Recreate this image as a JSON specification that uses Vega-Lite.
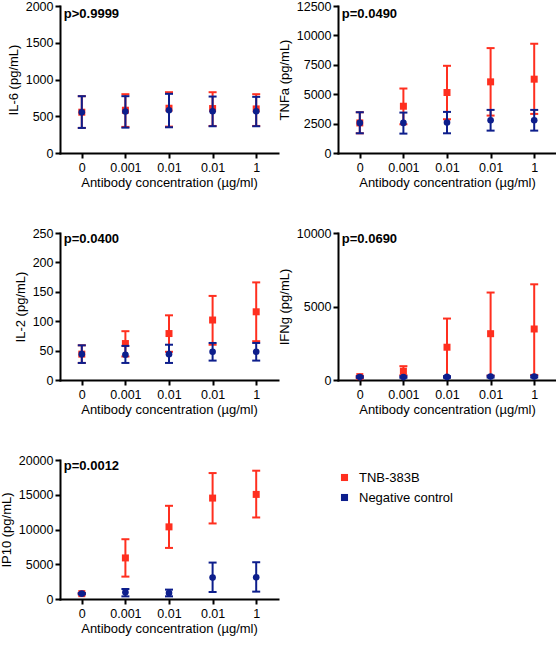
{
  "$schema": "https://vega.github.io/schema/vega-lite/v6.json",
  "padding": {"left": 0, "top": 0, "right": 0, "bottom": 0},
  "bounds": "flush",
  "columns": 2,
  "spacing": {"row": 80, "column": 60},
  "datasets": {
    "d": [
      {"c": "IL-6", "g": "TNB-383B", "pos": 1, "mean": 555, "lo": 341, "hi": 773},
      {"c": "IL-6", "g": "TNB-383B", "pos": 2, "mean": 582, "lo": 355, "hi": 800},
      {"c": "IL-6", "g": "TNB-383B", "pos": 3, "mean": 609, "lo": 359, "hi": 827},
      {"c": "IL-6", "g": "TNB-383B", "pos": 4, "mean": 605, "lo": 368, "hi": 827},
      {"c": "IL-6", "g": "TNB-383B", "pos": 5, "mean": 600, "lo": 368, "hi": 800},
      {"c": "IL-6", "g": "Negative control", "pos": 1, "mean": 555, "lo": 341, "hi": 773},
      {"c": "IL-6", "g": "Negative control", "pos": 2, "mean": 564, "lo": 345, "hi": 773},
      {"c": "IL-6", "g": "Negative control", "pos": 3, "mean": 582, "lo": 350, "hi": 805},
      {"c": "IL-6", "g": "Negative control", "pos": 4, "mean": 568, "lo": 364, "hi": 768},
      {"c": "IL-6", "g": "Negative control", "pos": 5, "mean": 568, "lo": 364, "hi": 764},
      {"c": "TNFa", "g": "TNB-383B", "pos": 1, "mean": 2557, "lo": 1676, "hi": 3466},
      {"c": "TNFa", "g": "TNB-383B", "pos": 2, "mean": 3977, "lo": 2443, "hi": 5483},
      {"c": "TNFa", "g": "TNB-383B", "pos": 3, "mean": 5142, "lo": 2870, "hi": 7415},
      {"c": "TNFa", "g": "TNB-383B", "pos": 4, "mean": 6051, "lo": 3182, "hi": 8920},
      {"c": "TNFa", "g": "TNB-383B", "pos": 5, "mean": 6278, "lo": 3324, "hi": 9290},
      {"c": "TNFa", "g": "Negative control", "pos": 1, "mean": 2557, "lo": 1676, "hi": 3466},
      {"c": "TNFa", "g": "Negative control", "pos": 2, "mean": 2557, "lo": 1648, "hi": 3437},
      {"c": "TNFa", "g": "Negative control", "pos": 3, "mean": 2585, "lo": 1676, "hi": 3494},
      {"c": "TNFa", "g": "Negative control", "pos": 4, "mean": 2784, "lo": 1903, "hi": 3665},
      {"c": "TNFa", "g": "Negative control", "pos": 5, "mean": 2784, "lo": 1903, "hi": 3665},
      {"c": "IL-2", "g": "TNB-383B", "pos": 1, "mean": 44, "lo": 29, "hi": 59},
      {"c": "IL-2", "g": "TNB-383B", "pos": 2, "mean": 62, "lo": 40, "hi": 83},
      {"c": "IL-2", "g": "TNB-383B", "pos": 3, "mean": 79, "lo": 48, "hi": 110},
      {"c": "IL-2", "g": "TNB-383B", "pos": 4, "mean": 102, "lo": 60, "hi": 143},
      {"c": "IL-2", "g": "TNB-383B", "pos": 5, "mean": 116, "lo": 66, "hi": 166},
      {"c": "IL-2", "g": "Negative control", "pos": 1, "mean": 44, "lo": 29, "hi": 59},
      {"c": "IL-2", "g": "Negative control", "pos": 2, "mean": 43, "lo": 29, "hi": 58},
      {"c": "IL-2", "g": "Negative control", "pos": 3, "mean": 44, "lo": 29, "hi": 60},
      {"c": "IL-2", "g": "Negative control", "pos": 4, "mean": 48, "lo": 33, "hi": 63},
      {"c": "IL-2", "g": "Negative control", "pos": 5, "mean": 48, "lo": 33, "hi": 63},
      {"c": "IFNg", "g": "TNB-383B", "pos": 1, "mean": 230, "lo": 150, "hi": 260},
      {"c": "IFNg", "g": "TNB-383B", "pos": 2, "mean": 600, "lo": 320, "hi": 940},
      {"c": "IFNg", "g": "TNB-383B", "pos": 3, "mean": 2230, "lo": 230, "hi": 4180},
      {"c": "IFNg", "g": "TNB-383B", "pos": 4, "mean": 3150, "lo": 300, "hi": 5950},
      {"c": "IFNg", "g": "TNB-383B", "pos": 5, "mean": 3470, "lo": 345, "hi": 6510},
      {"c": "IFNg", "g": "Negative control", "pos": 1, "mean": 200, "lo": 150, "hi": 260},
      {"c": "IFNg", "g": "Negative control", "pos": 2, "mean": 200, "lo": 150, "hi": 250},
      {"c": "IFNg", "g": "Negative control", "pos": 3, "mean": 210, "lo": 150, "hi": 260},
      {"c": "IFNg", "g": "Negative control", "pos": 4, "mean": 230, "lo": 170, "hi": 290},
      {"c": "IFNg", "g": "Negative control", "pos": 5, "mean": 230, "lo": 170, "hi": 290},
      {"c": "IP10", "g": "TNB-383B", "pos": 1, "mean": 770, "lo": 680, "hi": 860},
      {"c": "IP10", "g": "TNB-383B", "pos": 2, "mean": 5910, "lo": 3220, "hi": 8600},
      {"c": "IP10", "g": "TNB-383B", "pos": 3, "mean": 10380, "lo": 7350, "hi": 13410},
      {"c": "IP10", "g": "TNB-383B", "pos": 4, "mean": 14520, "lo": 10870, "hi": 18120},
      {"c": "IP10", "g": "TNB-383B", "pos": 5, "mean": 15050, "lo": 11730, "hi": 18460},
      {"c": "IP10", "g": "Negative control", "pos": 1, "mean": 770, "lo": 680, "hi": 860},
      {"c": "IP10", "g": "Negative control", "pos": 2, "mean": 960, "lo": 380, "hi": 1440},
      {"c": "IP10", "g": "Negative control", "pos": 3, "mean": 870, "lo": 380, "hi": 1350},
      {"c": "IP10", "g": "Negative control", "pos": 4, "mean": 3080, "lo": 1010, "hi": 5240},
      {"c": "IP10", "g": "Negative control", "pos": 5, "mean": 3125, "lo": 1060, "hi": 5290}
    ]
  },
  "data": {"name": "d"},
  "resolve": {"scale": {"color": "independent"}, "legend": {"color": "independent"}},
  "concat": [
    {
      "width": 218, "height": 147,
      "transform": [{"filter": {"field": "c", "equal": "IL-6"}}],
      "encoding": {"x": {"field": "pos", "type": "ordinal", "title": "Antibody concentration (µg/ml)", "scale": {"type": "point", "padding": 0.5}, "axis": {"labelExpr": "['0','0.001','0.01','0.01','1'][datum.value-1]"}}},
      "layer": [
        {"transform": [{"filter": {"field": "g", "equal": "TNB-383B"}}], "layer": [
          {"mark": {"type": "rule", "color": "#ff2f1f", "strokeWidth": 2}, "encoding": {"y": {"field": "lo", "type": "quantitative", "title": "IL-6 (pg/mL)", "scale": {"domain": [0, 2000], "nice": false}, "axis": {"values": [0, 500, 1000, 1500, 2000], "format": "d"}}, "y2": {"field": "hi"}}},
          {"mark": {"type": "tick", "color": "#ff2f1f", "thickness": 2, "size": 8, "opacity": 1}, "encoding": {"y": {"field": "lo", "type": "quantitative", "title": "IL-6 (pg/mL)", "scale": {"domain": [0, 2000], "nice": false}, "axis": {"values": [0, 500, 1000, 1500, 2000], "format": "d"}}}},
          {"mark": {"type": "tick", "color": "#ff2f1f", "thickness": 2, "size": 8, "opacity": 1}, "encoding": {"y": {"field": "hi", "type": "quantitative", "title": "IL-6 (pg/mL)", "scale": {"domain": [0, 2000], "nice": false}, "axis": {"values": [0, 500, 1000, 1500, 2000], "format": "d"}}}},
          {"mark": {"type": "point", "shape": "square", "filled": true, "size": 49, "opacity": 1}, "encoding": {"y": {"field": "mean", "type": "quantitative", "title": "IL-6 (pg/mL)", "scale": {"domain": [0, 2000], "nice": false}, "axis": {"values": [0, 500, 1000, 1500, 2000], "format": "d"}}, "color": {"field": "g", "type": "nominal", "scale": {"domain": ["TNB-383B", "Negative control"], "range": ["#ff2f1f", "#0d1e8c"]}, "legend": null}}}
        ]},
        {"transform": [{"filter": {"field": "g", "equal": "Negative control"}}], "layer": [
          {"mark": {"type": "rule", "color": "#0d1e8c", "strokeWidth": 2}, "encoding": {"y": {"field": "lo", "type": "quantitative", "title": "IL-6 (pg/mL)", "scale": {"domain": [0, 2000], "nice": false}, "axis": {"values": [0, 500, 1000, 1500, 2000], "format": "d"}}, "y2": {"field": "hi"}}},
          {"mark": {"type": "tick", "color": "#0d1e8c", "thickness": 2, "size": 8, "opacity": 1}, "encoding": {"y": {"field": "lo", "type": "quantitative", "title": "IL-6 (pg/mL)", "scale": {"domain": [0, 2000], "nice": false}, "axis": {"values": [0, 500, 1000, 1500, 2000], "format": "d"}}}},
          {"mark": {"type": "tick", "color": "#0d1e8c", "thickness": 2, "size": 8, "opacity": 1}, "encoding": {"y": {"field": "hi", "type": "quantitative", "title": "IL-6 (pg/mL)", "scale": {"domain": [0, 2000], "nice": false}, "axis": {"values": [0, 500, 1000, 1500, 2000], "format": "d"}}}},
          {"mark": {"type": "point", "shape": "circle", "filled": true, "size": 44, "opacity": 1}, "encoding": {"y": {"field": "mean", "type": "quantitative", "title": "IL-6 (pg/mL)", "scale": {"domain": [0, 2000], "nice": false}, "axis": {"values": [0, 500, 1000, 1500, 2000], "format": "d"}}, "color": {"field": "g", "type": "nominal", "scale": {"domain": ["TNB-383B", "Negative control"], "range": ["#ff2f1f", "#0d1e8c"]}, "legend": null}}}
        ]},
        {"data": {"values": [{"c": "IL-6", "p": "p>0.9999"}]}, "mark": {"type": "text", "align": "left", "baseline": "middle", "dx": -18, "dy": 8, "fontWeight": "bold", "fontSize": 13, "font": "Liberation Sans", "color": "#000"}, "encoding": {"x": {"datum": 1, "type": "ordinal", "title": "Antibody concentration (µg/ml)"}, "y": {"datum": 2000, "type": "quantitative", "title": "IL-6 (pg/mL)", "scale": {"domain": [0, 2000], "nice": false}, "axis": {"values": [0, 500, 1000, 1500, 2000], "format": "d"}}, "text": {"field": "p"}}}
      ]
    },
    {
      "width": 218, "height": 147,
      "transform": [{"filter": {"field": "c", "equal": "TNFa"}}],
      "encoding": {"x": {"field": "pos", "type": "ordinal", "title": "Antibody concentration (µg/ml)", "scale": {"type": "point", "padding": 0.5}, "axis": {"labelExpr": "['0','0.001','0.01','0.01','1'][datum.value-1]"}}},
      "layer": [
        {"transform": [{"filter": {"field": "g", "equal": "TNB-383B"}}], "layer": [
          {"mark": {"type": "rule", "color": "#ff2f1f", "strokeWidth": 2}, "encoding": {"y": {"field": "lo", "type": "quantitative", "title": "TNFa (pg/mL)", "scale": {"domain": [0, 12500], "nice": false}, "axis": {"values": [0, 2500, 5000, 7500, 10000, 12500], "format": "d"}}, "y2": {"field": "hi"}}},
          {"mark": {"type": "tick", "color": "#ff2f1f", "thickness": 2, "size": 8, "opacity": 1}, "encoding": {"y": {"field": "lo", "type": "quantitative", "title": "TNFa (pg/mL)", "scale": {"domain": [0, 12500], "nice": false}, "axis": {"values": [0, 2500, 5000, 7500, 10000, 12500], "format": "d"}}}},
          {"mark": {"type": "tick", "color": "#ff2f1f", "thickness": 2, "size": 8, "opacity": 1}, "encoding": {"y": {"field": "hi", "type": "quantitative", "title": "TNFa (pg/mL)", "scale": {"domain": [0, 12500], "nice": false}, "axis": {"values": [0, 2500, 5000, 7500, 10000, 12500], "format": "d"}}}},
          {"mark": {"type": "point", "shape": "square", "filled": true, "size": 49, "opacity": 1}, "encoding": {"y": {"field": "mean", "type": "quantitative", "title": "TNFa (pg/mL)", "scale": {"domain": [0, 12500], "nice": false}, "axis": {"values": [0, 2500, 5000, 7500, 10000, 12500], "format": "d"}}, "color": {"field": "g", "type": "nominal", "scale": {"domain": ["TNB-383B", "Negative control"], "range": ["#ff2f1f", "#0d1e8c"]}, "legend": null}}}
        ]},
        {"transform": [{"filter": {"field": "g", "equal": "Negative control"}}], "layer": [
          {"mark": {"type": "rule", "color": "#0d1e8c", "strokeWidth": 2}, "encoding": {"y": {"field": "lo", "type": "quantitative", "title": "TNFa (pg/mL)", "scale": {"domain": [0, 12500], "nice": false}, "axis": {"values": [0, 2500, 5000, 7500, 10000, 12500], "format": "d"}}, "y2": {"field": "hi"}}},
          {"mark": {"type": "tick", "color": "#0d1e8c", "thickness": 2, "size": 8, "opacity": 1}, "encoding": {"y": {"field": "lo", "type": "quantitative", "title": "TNFa (pg/mL)", "scale": {"domain": [0, 12500], "nice": false}, "axis": {"values": [0, 2500, 5000, 7500, 10000, 12500], "format": "d"}}}},
          {"mark": {"type": "tick", "color": "#0d1e8c", "thickness": 2, "size": 8, "opacity": 1}, "encoding": {"y": {"field": "hi", "type": "quantitative", "title": "TNFa (pg/mL)", "scale": {"domain": [0, 12500], "nice": false}, "axis": {"values": [0, 2500, 5000, 7500, 10000, 12500], "format": "d"}}}},
          {"mark": {"type": "point", "shape": "circle", "filled": true, "size": 44, "opacity": 1}, "encoding": {"y": {"field": "mean", "type": "quantitative", "title": "TNFa (pg/mL)", "scale": {"domain": [0, 12500], "nice": false}, "axis": {"values": [0, 2500, 5000, 7500, 10000, 12500], "format": "d"}}, "color": {"field": "g", "type": "nominal", "scale": {"domain": ["TNB-383B", "Negative control"], "range": ["#ff2f1f", "#0d1e8c"]}, "legend": null}}}
        ]},
        {"data": {"values": [{"c": "TNFa", "p": "p=0.0490"}]}, "mark": {"type": "text", "align": "left", "baseline": "middle", "dx": -18, "dy": 8, "fontWeight": "bold", "fontSize": 13, "font": "Liberation Sans", "color": "#000"}, "encoding": {"x": {"datum": 1, "type": "ordinal", "title": "Antibody concentration (µg/ml)"}, "y": {"datum": 12500, "type": "quantitative", "title": "TNFa (pg/mL)", "scale": {"domain": [0, 12500], "nice": false}, "axis": {"values": [0, 2500, 5000, 7500, 10000, 12500], "format": "d"}}, "text": {"field": "p"}}}
      ]
    },
    {
      "width": 218, "height": 147,
      "transform": [{"filter": {"field": "c", "equal": "IL-2"}}],
      "encoding": {"x": {"field": "pos", "type": "ordinal", "title": "Antibody concentration (µg/ml)", "scale": {"type": "point", "padding": 0.5}, "axis": {"labelExpr": "['0','0.001','0.01','0.01','1'][datum.value-1]"}}},
      "layer": [
        {"transform": [{"filter": {"field": "g", "equal": "TNB-383B"}}], "layer": [
          {"mark": {"type": "rule", "color": "#ff2f1f", "strokeWidth": 2}, "encoding": {"y": {"field": "lo", "type": "quantitative", "title": "IL-2 (pg/mL)", "scale": {"domain": [0, 250], "nice": false}, "axis": {"values": [0, 50, 100, 150, 200, 250], "format": "d"}}, "y2": {"field": "hi"}}},
          {"mark": {"type": "tick", "color": "#ff2f1f", "thickness": 2, "size": 8, "opacity": 1}, "encoding": {"y": {"field": "lo", "type": "quantitative", "title": "IL-2 (pg/mL)", "scale": {"domain": [0, 250], "nice": false}, "axis": {"values": [0, 50, 100, 150, 200, 250], "format": "d"}}}},
          {"mark": {"type": "tick", "color": "#ff2f1f", "thickness": 2, "size": 8, "opacity": 1}, "encoding": {"y": {"field": "hi", "type": "quantitative", "title": "IL-2 (pg/mL)", "scale": {"domain": [0, 250], "nice": false}, "axis": {"values": [0, 50, 100, 150, 200, 250], "format": "d"}}}},
          {"mark": {"type": "point", "shape": "square", "filled": true, "size": 49, "opacity": 1}, "encoding": {"y": {"field": "mean", "type": "quantitative", "title": "IL-2 (pg/mL)", "scale": {"domain": [0, 250], "nice": false}, "axis": {"values": [0, 50, 100, 150, 200, 250], "format": "d"}}, "color": {"field": "g", "type": "nominal", "scale": {"domain": ["TNB-383B", "Negative control"], "range": ["#ff2f1f", "#0d1e8c"]}, "legend": null}}}
        ]},
        {"transform": [{"filter": {"field": "g", "equal": "Negative control"}}], "layer": [
          {"mark": {"type": "rule", "color": "#0d1e8c", "strokeWidth": 2}, "encoding": {"y": {"field": "lo", "type": "quantitative", "title": "IL-2 (pg/mL)", "scale": {"domain": [0, 250], "nice": false}, "axis": {"values": [0, 50, 100, 150, 200, 250], "format": "d"}}, "y2": {"field": "hi"}}},
          {"mark": {"type": "tick", "color": "#0d1e8c", "thickness": 2, "size": 8, "opacity": 1}, "encoding": {"y": {"field": "lo", "type": "quantitative", "title": "IL-2 (pg/mL)", "scale": {"domain": [0, 250], "nice": false}, "axis": {"values": [0, 50, 100, 150, 200, 250], "format": "d"}}}},
          {"mark": {"type": "tick", "color": "#0d1e8c", "thickness": 2, "size": 8, "opacity": 1}, "encoding": {"y": {"field": "hi", "type": "quantitative", "title": "IL-2 (pg/mL)", "scale": {"domain": [0, 250], "nice": false}, "axis": {"values": [0, 50, 100, 150, 200, 250], "format": "d"}}}},
          {"mark": {"type": "point", "shape": "circle", "filled": true, "size": 44, "opacity": 1}, "encoding": {"y": {"field": "mean", "type": "quantitative", "title": "IL-2 (pg/mL)", "scale": {"domain": [0, 250], "nice": false}, "axis": {"values": [0, 50, 100, 150, 200, 250], "format": "d"}}, "color": {"field": "g", "type": "nominal", "scale": {"domain": ["TNB-383B", "Negative control"], "range": ["#ff2f1f", "#0d1e8c"]}, "legend": null}}}
        ]},
        {"data": {"values": [{"c": "IL-2", "p": "p=0.0400"}]}, "mark": {"type": "text", "align": "left", "baseline": "middle", "dx": -18, "dy": 6, "fontWeight": "bold", "fontSize": 13, "font": "Liberation Sans", "color": "#000"}, "encoding": {"x": {"datum": 1, "type": "ordinal", "title": "Antibody concentration (µg/ml)"}, "y": {"datum": 250, "type": "quantitative", "title": "IL-2 (pg/mL)", "scale": {"domain": [0, 250], "nice": false}, "axis": {"values": [0, 50, 100, 150, 200, 250], "format": "d"}}, "text": {"field": "p"}}}
      ]
    },
    {
      "width": 218, "height": 147,
      "transform": [{"filter": {"field": "c", "equal": "IFNg"}}],
      "encoding": {"x": {"field": "pos", "type": "ordinal", "title": "Antibody concentration (µg/ml)", "scale": {"type": "point", "padding": 0.5}, "axis": {"labelExpr": "['0','0.001','0.01','0.01','1'][datum.value-1]"}}},
      "layer": [
        {"transform": [{"filter": {"field": "g", "equal": "TNB-383B"}}], "layer": [
          {"mark": {"type": "rule", "color": "#ff2f1f", "strokeWidth": 2}, "encoding": {"y": {"field": "lo", "type": "quantitative", "title": "IFNg (pg/mL)", "scale": {"domain": [0, 10000], "nice": false}, "axis": {"values": [0, 5000, 10000], "format": "d"}}, "y2": {"field": "hi"}}},
          {"mark": {"type": "tick", "color": "#ff2f1f", "thickness": 2, "size": 8, "opacity": 1}, "encoding": {"y": {"field": "lo", "type": "quantitative", "title": "IFNg (pg/mL)", "scale": {"domain": [0, 10000], "nice": false}, "axis": {"values": [0, 5000, 10000], "format": "d"}}}},
          {"mark": {"type": "tick", "color": "#ff2f1f", "thickness": 2, "size": 8, "opacity": 1}, "encoding": {"y": {"field": "hi", "type": "quantitative", "title": "IFNg (pg/mL)", "scale": {"domain": [0, 10000], "nice": false}, "axis": {"values": [0, 5000, 10000], "format": "d"}}}},
          {"mark": {"type": "point", "shape": "square", "filled": true, "size": 49, "opacity": 1}, "encoding": {"y": {"field": "mean", "type": "quantitative", "title": "IFNg (pg/mL)", "scale": {"domain": [0, 10000], "nice": false}, "axis": {"values": [0, 5000, 10000], "format": "d"}}, "color": {"field": "g", "type": "nominal", "scale": {"domain": ["TNB-383B", "Negative control"], "range": ["#ff2f1f", "#0d1e8c"]}, "legend": null}}}
        ]},
        {"transform": [{"filter": {"field": "g", "equal": "Negative control"}}], "layer": [
          {"mark": {"type": "rule", "color": "#0d1e8c", "strokeWidth": 2}, "encoding": {"y": {"field": "lo", "type": "quantitative", "title": "IFNg (pg/mL)", "scale": {"domain": [0, 10000], "nice": false}, "axis": {"values": [0, 5000, 10000], "format": "d"}}, "y2": {"field": "hi"}}},
          {"mark": {"type": "tick", "color": "#0d1e8c", "thickness": 2, "size": 8, "opacity": 1}, "encoding": {"y": {"field": "lo", "type": "quantitative", "title": "IFNg (pg/mL)", "scale": {"domain": [0, 10000], "nice": false}, "axis": {"values": [0, 5000, 10000], "format": "d"}}}},
          {"mark": {"type": "tick", "color": "#0d1e8c", "thickness": 2, "size": 8, "opacity": 1}, "encoding": {"y": {"field": "hi", "type": "quantitative", "title": "IFNg (pg/mL)", "scale": {"domain": [0, 10000], "nice": false}, "axis": {"values": [0, 5000, 10000], "format": "d"}}}},
          {"mark": {"type": "point", "shape": "circle", "filled": true, "size": 44, "opacity": 1}, "encoding": {"y": {"field": "mean", "type": "quantitative", "title": "IFNg (pg/mL)", "scale": {"domain": [0, 10000], "nice": false}, "axis": {"values": [0, 5000, 10000], "format": "d"}}, "color": {"field": "g", "type": "nominal", "scale": {"domain": ["TNB-383B", "Negative control"], "range": ["#ff2f1f", "#0d1e8c"]}, "legend": null}}}
        ]},
        {"data": {"values": [{"c": "IFNg", "p": "p=0.0690"}]}, "mark": {"type": "text", "align": "left", "baseline": "middle", "dx": -18, "dy": 6, "fontWeight": "bold", "fontSize": 13, "font": "Liberation Sans", "color": "#000"}, "encoding": {"x": {"datum": 1, "type": "ordinal", "title": "Antibody concentration (µg/ml)"}, "y": {"datum": 10000, "type": "quantitative", "title": "IFNg (pg/mL)", "scale": {"domain": [0, 10000], "nice": false}, "axis": {"values": [0, 5000, 10000], "format": "d"}}, "text": {"field": "p"}}}
      ]
    },
    {
      "width": 218, "height": 139,
      "transform": [{"filter": {"field": "c", "equal": "IP10"}}],
      "encoding": {"x": {"field": "pos", "type": "ordinal", "title": "Antibody concentration (µg/ml)", "scale": {"type": "point", "padding": 0.5}, "axis": {"labelExpr": "['0','0.001','0.01','0.01','1'][datum.value-1]"}}},
      "layer": [
        {"transform": [{"filter": {"field": "g", "equal": "TNB-383B"}}], "layer": [
          {"mark": {"type": "rule", "color": "#ff2f1f", "strokeWidth": 2}, "encoding": {"y": {"field": "lo", "type": "quantitative", "title": "IP10 (pg/mL)", "scale": {"domain": [0, 20000], "nice": false}, "axis": {"values": [0, 5000, 10000, 15000, 20000], "format": "d"}}, "y2": {"field": "hi"}}},
          {"mark": {"type": "tick", "color": "#ff2f1f", "thickness": 2, "size": 8, "opacity": 1}, "encoding": {"y": {"field": "lo", "type": "quantitative", "title": "IP10 (pg/mL)", "scale": {"domain": [0, 20000], "nice": false}, "axis": {"values": [0, 5000, 10000, 15000, 20000], "format": "d"}}}},
          {"mark": {"type": "tick", "color": "#ff2f1f", "thickness": 2, "size": 8, "opacity": 1}, "encoding": {"y": {"field": "hi", "type": "quantitative", "title": "IP10 (pg/mL)", "scale": {"domain": [0, 20000], "nice": false}, "axis": {"values": [0, 5000, 10000, 15000, 20000], "format": "d"}}}},
          {"mark": {"type": "point", "shape": "square", "filled": true, "size": 49, "opacity": 1}, "encoding": {"y": {"field": "mean", "type": "quantitative", "title": "IP10 (pg/mL)", "scale": {"domain": [0, 20000], "nice": false}, "axis": {"values": [0, 5000, 10000, 15000, 20000], "format": "d"}}, "color": {"field": "g", "type": "nominal", "scale": {"domain": ["TNB-383B", "Negative control"], "range": ["#ff2f1f", "#0d1e8c"]}, "legend": {"orient": "none", "legendX": 278, "legendY": 11, "direction": "vertical", "title": null, "padding": 0, "symbolType": "square", "symbolSize": 50, "symbolStrokeWidth": 0, "labelFontSize": 13, "labelFont": "Liberation Sans", "labelColor": "#000", "labelOffset": 8, "rowPadding": 6}}}}
        ]},
        {"transform": [{"filter": {"field": "g", "equal": "Negative control"}}], "layer": [
          {"mark": {"type": "rule", "color": "#0d1e8c", "strokeWidth": 2}, "encoding": {"y": {"field": "lo", "type": "quantitative", "title": "IP10 (pg/mL)", "scale": {"domain": [0, 20000], "nice": false}, "axis": {"values": [0, 5000, 10000, 15000, 20000], "format": "d"}}, "y2": {"field": "hi"}}},
          {"mark": {"type": "tick", "color": "#0d1e8c", "thickness": 2, "size": 8, "opacity": 1}, "encoding": {"y": {"field": "lo", "type": "quantitative", "title": "IP10 (pg/mL)", "scale": {"domain": [0, 20000], "nice": false}, "axis": {"values": [0, 5000, 10000, 15000, 20000], "format": "d"}}}},
          {"mark": {"type": "tick", "color": "#0d1e8c", "thickness": 2, "size": 8, "opacity": 1}, "encoding": {"y": {"field": "hi", "type": "quantitative", "title": "IP10 (pg/mL)", "scale": {"domain": [0, 20000], "nice": false}, "axis": {"values": [0, 5000, 10000, 15000, 20000], "format": "d"}}}},
          {"mark": {"type": "point", "shape": "circle", "filled": true, "size": 44, "opacity": 1}, "encoding": {"y": {"field": "mean", "type": "quantitative", "title": "IP10 (pg/mL)", "scale": {"domain": [0, 20000], "nice": false}, "axis": {"values": [0, 5000, 10000, 15000, 20000], "format": "d"}}, "color": {"field": "g", "type": "nominal", "scale": {"domain": ["TNB-383B", "Negative control"], "range": ["#ff2f1f", "#0d1e8c"]}}}}
        ]},
        {"data": {"values": [{"c": "IP10", "p": "p=0.0012"}]}, "mark": {"type": "text", "align": "left", "baseline": "middle", "dx": -18, "dy": 6, "fontWeight": "bold", "fontSize": 13, "font": "Liberation Sans", "color": "#000"}, "encoding": {"x": {"datum": 1, "type": "ordinal", "title": "Antibody concentration (µg/ml)"}, "y": {"datum": 20000, "type": "quantitative", "title": "IP10 (pg/mL)", "scale": {"domain": [0, 20000], "nice": false}, "axis": {"values": [0, 5000, 10000, 15000, 20000], "format": "d"}}, "text": {"field": "p"}}}
      ]
    }
  ],
  "config": {
    "view": {"stroke": null},
    "font": "Liberation Sans",
    "axis": {
      "grid": false,
      "domainColor": "#000", "domainWidth": 2, "domainCap": "square",
      "tickColor": "#000", "tickWidth": 2, "tickSize": 5,
      "labelColor": "#000", "labelFont": "Liberation Sans", "labelFontSize": 12.5,
      "titleColor": "#000", "titleFont": "Liberation Sans", "titleFontSize": 13, "titleFontWeight": "normal"
    },
    "axisX": {"labelAngle": 0, "labelPadding": 3, "titlePadding": 3},
    "axisY": {"titlePadding": 5, "labelPadding": 2}
  }
}
